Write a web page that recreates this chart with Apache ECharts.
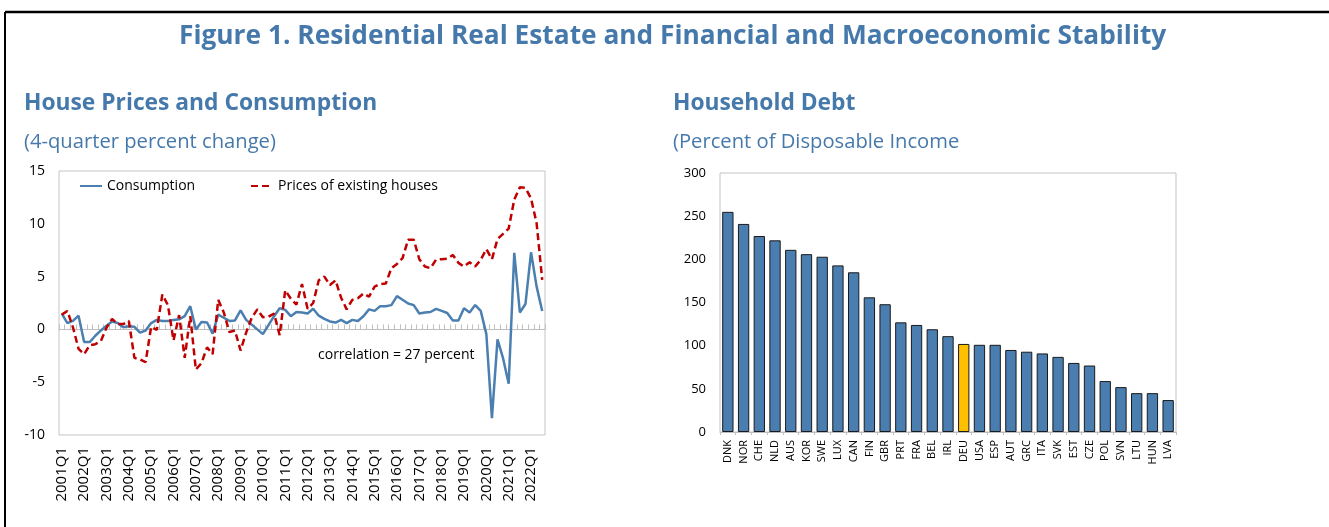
<!DOCTYPE html>
<html>
<head>
<meta charset="utf-8">
<script src="https://cdn.jsdelivr.net/npm/echarts@6/dist/echarts.min.js"></script>
<style>
html,body{margin:0;padding:0;background:#fff;}
#chart{width:1329px;height:527px;}
</style>
</head>
<body>
<div id="chart"></div>
<script>
// ---------- Data ----------
const startYear = 2001;
const quarterCount = 87; // 2001Q1 .. 2022Q3
const consumption = [
  1.5, 0.6, 0.8, 1.3, -1.2, -1.2, -0.6, -0.1, 0.35, 0.75,
  0.6, 0.2, 0.3, 0.25, -0.3, -0.1, 0.6, 0.9, 0.8, 0.8,
  0.9, 0.95, 1.25, 2.2, 0.0, 0.7, 0.65, -0.4, 1.4, 1.1,
  0.8, 0.85, 1.8, 0.9, 0.45, 0.0, -0.45, 0.4, 1.25, 2.0,
  1.85, 1.25, 1.65, 1.6, 1.5, 1.95, 1.3, 1.0, 0.75, 0.65,
  0.9, 0.6, 0.9, 0.8, 1.25, 1.9, 1.75, 2.2, 2.2, 2.3,
  3.15, 2.8, 2.45, 2.3, 1.5, 1.6, 1.65, 1.95, 1.75, 1.55,
  0.85, 0.85, 2.0, 1.6, 2.3, 1.75, -0.45, -8.4, -0.95, -2.75,
  -5.15, 7.25, 1.6, 2.4, 7.3, 4.05, 1.75
];
const housePrices = [
  1.4, 1.75, 0.2, -1.85, -2.35, -1.5, -1.4, -1.1, 0.15, 1.0,
  0.5, 0.5, 0.8, -2.7, -2.85, -3.1, 0.25, -0.05, 3.3, 2.3,
  -1.05, 1.35, -2.7, 1.25, -3.8, -3.2, -1.7, -2.35, 2.8, 1.6,
  -0.25, -0.1, -2.0, -0.3, 1.1, 1.9, 1.15, 1.2, 1.5, -0.55,
  3.7, 2.9, 2.35, 4.3, 1.95, 2.5, 4.65, 5.0, 4.2, 4.65,
  3.0, 1.9, 2.8, 2.95, 3.4, 3.1, 4.05, 4.3, 4.35, 5.8,
  6.2, 6.75, 8.5, 8.5, 6.65, 5.95, 5.8, 6.6, 6.65, 6.7,
  7.05, 6.3, 5.95, 6.35, 5.95, 6.6, 7.6, 6.65, 8.55, 9.05,
  9.55, 12.3, 13.45, 13.4, 12.4, 10.05, 4.7
];
const quarterLabels = [];
for (let i = 0; i < quarterCount; i++) {
  quarterLabels.push((startYear + Math.floor(i / 4)) + 'Q' + (i % 4 + 1));
}
const countries = ['DNK','NOR','CHE','NLD','AUS','KOR','SWE','LUX','CAN','FIN','GBR','PRT','FRA','BEL','IRL','DEU','USA','ESP','AUT','GRC','ITA','SVK','EST','CZE','POL','SVN','LTU','HUN','LVA'];
const householdDebt = [255, 241, 227, 222, 211, 206, 203, 193, 185, 156, 148, 127, 124, 119, 111, 102, 101, 101, 95, 93, 91, 87, 80, 77, 59, 52, 45, 45, 37];
const highlightCountry = 'DEU';

// ---------- Style ----------
const BLUE_TITLE = '#4679ab';
const LINE_BLUE = '#4a7fb0';
const LINE_RED = '#c00000';
const BAR_BLUE = '#4a7eb0';
const BAR_YELLOW = '#ffc000';
const FONT = '"Open Sans", "Noto Sans", sans-serif';

const chart = echarts.init(document.getElementById('chart'), null, {renderer: 'canvas'});

const option = {
  backgroundColor: '#ffffff',
  animation: false,
  textStyle: {fontFamily: FONT},
  title: [
    {text: 'Figure 1. Residential Real Estate and Financial and Macroeconomic Stability', left: 174, top: 19,
     textStyle: {fontFamily: FONT, fontSize: 26.3, fontWeight: 'bold', color: BLUE_TITLE}},
    {text: 'House Prices and Consumption', left: 19, top: 87,
     textStyle: {fontFamily: FONT, fontSize: 22.8, fontWeight: 'bold', color: BLUE_TITLE}},
    {text: '(4-quarter percent change)', left: 19, top: 127,
     textStyle: {fontFamily: FONT, fontSize: 20.2, fontWeight: 'normal', color: BLUE_TITLE}},
    {text: 'Household Debt', left: 668, top: 87,
     textStyle: {fontFamily: FONT, fontSize: 22.8, fontWeight: 'bold', color: BLUE_TITLE}},
    {text: '(Percent of Disposable Income', left: 668, top: 127,
     textStyle: {fontFamily: FONT, fontSize: 20.2, fontWeight: 'normal', color: BLUE_TITLE}}
  ],
  legend: [
    {data: ['Consumption'], left: 74, top: 174, itemWidth: 22, itemHeight: 10, itemGap: 4,
     itemStyle: {opacity: 0},
     textStyle: {fontFamily: FONT, fontSize: 14, color: '#000'}},
    {data: ['Prices of existing houses'], left: 245, top: 174, itemWidth: 22, itemHeight: 10, itemGap: 4,
     itemStyle: {opacity: 0},
     textStyle: {fontFamily: FONT, fontSize: 14, color: '#000'}}
  ],
  grid: [
    {left: 59, top: 171, width: 486, height: 264, show: true, borderColor: '#c4c4c4', borderWidth: 1},
    {left: 720, top: 173, width: 456, height: 259, show: true, borderColor: '#c4c4c4', borderWidth: 1}
  ],
  xAxis: [
    {type: 'category', gridIndex: 0, data: quarterLabels, boundaryGap: true, position: 'bottom',
     axisLine: {show: false, onZero: false}, axisTick: {show: false},
     axisLabel: {interval: 3, rotate: 90, margin: 12, fontSize: 15, color: '#000', fontFamily: FONT}},
    {type: 'category', gridIndex: 0, data: quarterLabels, boundaryGap: true, position: 'bottom',
     axisLine: {show: true, onZero: true, lineStyle: {color: '#bfbfbf', width: 1}},
     axisTick: {show: true, inside: true, length: 5, interval: 0, lineStyle: {color: '#bfbfbf'}},
     axisLabel: {show: false}},
    {type: 'category', gridIndex: 1, data: countries, boundaryGap: true,
     axisLine: {show: true, lineStyle: {color: '#bfbfbf'}},
     axisTick: {show: true, length: 3, interval: 0, lineStyle: {color: '#bfbfbf'}},
     axisLabel: {interval: 0, rotate: 90, margin: 8, fontSize: 11, color: '#000', fontFamily: FONT}}
  ],
  yAxis: [
    {type: 'value', gridIndex: 0, min: -10, max: 15, interval: 5,
     axisLine: {show: false}, axisTick: {show: false}, splitLine: {show: false},
     axisLabel: {margin: 14, fontSize: 14, color: '#000', fontFamily: FONT}},
    {type: 'value', gridIndex: 1, min: 0, max: 300, interval: 50,
     axisLine: {show: false}, axisTick: {show: false}, splitLine: {show: false},
     axisLabel: {margin: 14, fontSize: 13, color: '#000', fontFamily: FONT}}
  ],
  series: [
    {name: 'Consumption', type: 'line', xAxisIndex: 0, yAxisIndex: 0, data: consumption,
     symbol: 'none', lineStyle: {color: LINE_BLUE, width: 2.5}, itemStyle: {color: LINE_BLUE}, z: 3},
    {name: 'Prices of existing houses', type: 'line', xAxisIndex: 0, yAxisIndex: 0, data: housePrices,
     symbol: 'none', lineStyle: {color: LINE_RED, width: 2.5, type: [7, 4]}, itemStyle: {color: LINE_RED}, z: 4},
    {name: 'Household debt', type: 'bar', xAxisIndex: 2, yAxisIndex: 1, barWidth: '72%',
     data: householdDebt.map((v, i) => ({
       value: v,
       itemStyle: {color: countries[i] === highlightCountry ? BAR_YELLOW : BAR_BLUE}
     })),
     itemStyle: {borderColor: '#1a1a1a', borderWidth: 1}}
  ],
  graphic: [
    {type: 'line', shape: {x1: 5, y1: 12, x2: 1329, y2: 12}, style: {stroke: '#000', lineWidth: 2.5}},
    {type: 'line', shape: {x1: 5, y1: 12, x2: 5, y2: 527}, style: {stroke: '#000', lineWidth: 2}},
    {type: 'text', left: 318, top: 348, style: {text: 'correlation = 27 percent', fontFamily: FONT, fontSize: 14, fill: '#000'}}
  ]
};
chart.setOption(option);
</script>
</body>
</html>
